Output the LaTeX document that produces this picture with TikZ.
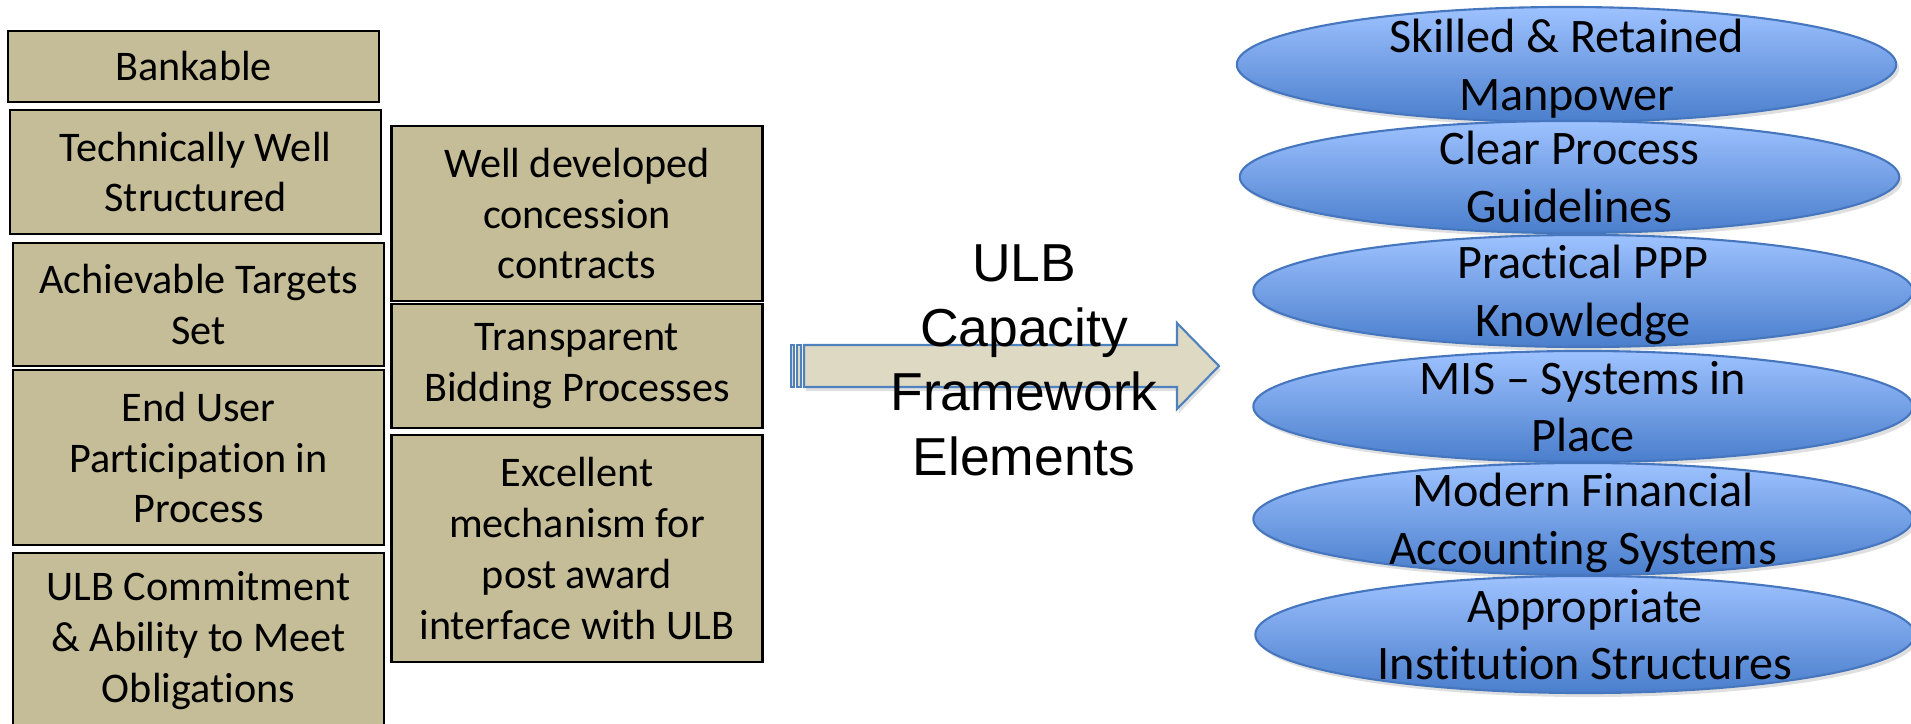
\documentclass[tikz,border=0pt]{standalone}
\usepackage{fontspec}
\setmainfont{Carlito}[Ligatures=NoCommon]
\newfontfamily\arialfont{Liberation Sans}
\usetikzlibrary{shapes.geometric,shadows}
\definecolor{tanfill}{RGB}{196,189,151}
\definecolor{arrowfill}{RGB}{221,217,195}
\definecolor{arrowline}{RGB}{79,129,189}
\definecolor{ovaltop}{RGB}{158,194,255}
\definecolor{ovalbottom}{RGB}{74,126,204}
\definecolor{ovalline}{RGB}{70,118,190}
\tikzset{
  factor/.style={rectangle, draw=black, line width=0.7pt, fill=tanfill, align=center,
    inner sep=0pt, minimum width=3.71cm, font=\fontsize{12}{14.5}\selectfont},
  oval/.style={ellipse, draw=ovalline, line width=0.6pt, top color=ovaltop,
    bottom color=ovalbottom, inner sep=0pt, minimum width=6.59cm,
    drop shadow={opacity=0.25, shadow xshift=0.03cm, shadow yshift=-0.04cm}},
  ovaltext/.style={align=center, inner sep=0pt, text depth=0pt,
    font=\fontsize{13.7}{16.4}\selectfont},
  bigarrow/.style={draw=arrowline, fill=arrowfill, line width=0.6pt},
}
\begin{document}
\begin{tikzpicture}[x=0.01cm, y=-0.01cm]
  \path[use as bounding box] (0,0) rectangle (1911,724);
  \clip (0,0) rectangle (1911,724);
  % left column
  \node[factor, minimum height=0.71cm] (bankable) at (193.5,66.5) {Bankable};
  \node[factor, minimum height=1.24cm] (technical) at (195.5,172) {Technically Well\\Structured};
  \node[factor, minimum height=1.23cm] (targets) at (198.5,304.5) {Achievable Targets\\Set};
  \node[factor, minimum height=1.75cm] (enduser) at (198.5,457.5) {End User\\Participation in\\Process};
  \node[factor, minimum height=1.75cm] (commitment) at (198.5,640.5) {ULB Commitment\\\& Ability to Meet\\Obligations};
  % right column
  \node[factor, minimum height=1.75cm] (concession) at (577,213.5) {Well developed\\concession\\contracts};
  \node[factor, minimum height=1.24cm] (bidding) at (577,366) {Transparent\\Bidding Processes};
  \node[factor, minimum height=2.27cm] (mechanism) at (577,548.5) {Excellent\\mechanism for\\post award\\interface with ULB};
  % striped arrow
  \draw[bigarrow, drop shadow={opacity=0.25, shadow xshift=0.02cm, shadow yshift=-0.04cm}]
    (804,345) -- (1177,345) -- (1177,323) -- (1219,366) -- (1177,409) -- (1177,387) -- (804,387) -- cycle;
  \draw[bigarrow] (791,345) rectangle (794,387);
  \draw[bigarrow] (797,345) rectangle (801,387);
  \node[align=center, inner sep=0pt, text depth=0pt, font=\arialfont\fontsize{15.2}{18.4}\selectfont]
    (framework) at (1024,360) {ULB\\Capacity\\Framework\\Elements};
  % elements
  \node[oval, minimum height=1.15cm] (manpower) at (1566.5,64.5) {};
  \node[ovaltext] (manpowertext) at (manpower) {Skilled \& Retained\\Manpower};
  \node[oval, minimum height=1.12cm] (guidelines) at (1569.5,177) {};
  \node[ovaltext] (guidelinestext) at (guidelines) {Clear Process\\Guidelines};
  \node[oval, minimum height=1.12cm] (knowledge) at (1583,291) {};
  \node[ovaltext] (knowledgetext) at (knowledge) {Practical PPP\\Knowledge};
  \node[oval, minimum height=1.11cm] (mis) at (1583,406.5) {};
  \node[ovaltext] (mistext) at (mis) {MIS -- Systems in\\Place};
  \node[oval, minimum height=1.12cm] (accounting) at (1583,519) {};
  \node[ovaltext] (accountingtext) at (accounting) {Modern Financial\\Accounting Systems};
  \node[oval, minimum height=1.17cm] (institution) at (1585,634.5) {};
  \node[ovaltext] (institutiontext) at (institution) {Appropriate\\Institution Structures};
\end{tikzpicture}
\end{document}
